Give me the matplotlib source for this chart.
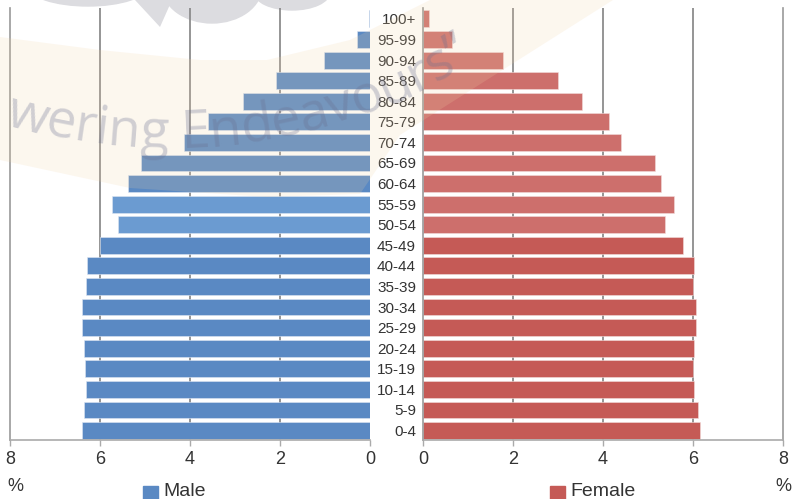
import numpy as np
import matplotlib.pyplot as plt
from matplotlib.patches import Polygon, Ellipse, Rectangle
from matplotlib.font_manager import FontProperties

plt.rcParams['font.family'] = ['Liberation Sans', 'DejaVu Sans']

W, H = 801, 499

# age groups, bottom to top
ages = ['0-4', '5-9', '10-14', '15-19', '20-24', '25-29', '30-34', '35-39',
        '40-44', '45-49', '50-54', '55-59', '60-64', '65-69', '70-74',
        '75-79', '80-84', '85-89', '90-94', '95-99', '100+']
male = [6.41, 6.36, 6.31, 6.34, 6.36, 6.41, 6.39, 6.31, 6.28, 6.01, 5.61,
        5.74, 5.38, 5.08, 4.13, 3.59, 2.82, 2.09, 1.02, 0.28, 0.02]
female = [6.16, 6.11, 6.03, 6.00, 6.03, 6.07, 6.07, 6.00, 6.03, 5.78, 5.38,
          5.58, 5.29, 5.16, 4.40, 4.13, 3.53, 3.01, 1.78, 0.65, 0.13]
ticks = [0, 2, 4, 6, 8]


def fxy(x, y):
    # pixel position (from top-left) -> figure fraction
    return x / W, 1 - y / H


fig = plt.figure(figsize=(W / 100, H / 100), dpi=100)

axL = fig.add_axes([10 / W, 59 / H, 360 / W, 432 / H])
axR = fig.add_axes([423 / W, 59 / H, 360 / W, 432 / H])

y = np.arange(len(ages))
male_col = ['#6b9bd1' if a in ('50-54', '55-59') else '#5a89c3' for a in ages]
female_col = ['#cd6f6c' if i >= 10 else '#c55a56' for i in range(len(ages))]

axL.barh(y, male, height=0.82, color=male_col, edgecolor='#dde6f2', linewidth=0.4, zorder=2)
axR.barh(y, female, height=0.82, color=female_col, edgecolor='#f2dddc', linewidth=0.4, zorder=2)

for ax in (axL, axR):
    ax.set_facecolor('none')
    ax.set_ylim(-0.46, 20.53)
    ax.set_xticks(ticks)
    ax.tick_params(axis='x', length=4, width=1, color='#aaaaaa', labelsize=13,
                   pad=4, labelcolor='#333333')
    for g in ticks[1:-1]:
        ax.axvline(g, color='#8c8c8c', lw=1.3, zorder=1)
    ax.spines['top'].set_visible(False)
    for s in ax.spines.values():
        s.set_color('#999999')
        s.set_linewidth(1.2)
    ax.spines['bottom'].set_color('#aaaaaa')

axL.set_xlim(8, 0)
axR.set_xlim(0, 8)
axL.spines['right'].set_visible(False)
axL.set_yticks([])
axR.set_yticks(y, ages)
axR.tick_params(axis='y', length=0, pad=5, labelsize=11, labelcolor='#333333')

# percent unit labels
fig.text(*fxy(15, 478), '%', ha='center', va='top', fontsize=13, color='#333333')
fig.text(*fxy(783, 478), '%', ha='center', va='top', fontsize=13, color='#333333')

# legend
for x0, col, lab in [(143, '#5a89c3', 'Male'), (550, '#c55a56', 'Female')]:
    fig.patches.append(Rectangle(fxy(x0, 499), 15 / W, 13 / H, color=col,
                                 transform=fig.transFigure, zorder=3))
    fig.text(*fxy(x0 + 20, 496.5), lab, ha='left', va='baseline', fontsize=14, color='#333333')

# watermark: logo petals at the top
for cx, cy, w, h in [(88, -14, 120, 40), (212, -14, 100, 74), (292, -8, 76, 36)]:
    fig.patches.append(Ellipse(fxy(cx, cy), w / W, h / H, color='#dcdce0',
                               transform=fig.transFigure, zorder=-2))
fig.patches.append(Polygon([fxy(135, 0), fxy(160, 27), fxy(172, 0)], closed=True,
                           color='#dcdce0', lw=0, transform=fig.transFigure, zorder=-2))

# watermark: cream swoosh over the chart
band = [(0, 37), (100, 50), (200, 60), (267, 60), (350, 40), (430, 0), (613, 0),
        (400, 135), (360, 194), (267, 197), (130, 188), (0, 160)]
fig.patches.append(Polygon([fxy(a, b) for a, b in band], closed=True, color='#f2d3a4',
                           alpha=0.18, lw=0, transform=fig.transFigure, zorder=5))

# watermark: text bent along a large arc (leading "Po" falls off the left edge)
text = 'Powering Endeavours\u201d'
first = 2
cx, cy, r = 168, H + 428, 576
fp = FontProperties(family='Open Sans', size=34)
renderer = fig.canvas.get_renderer()


def tw(s):
    return renderer.get_text_width_height_descent(s + '|', fp, ismath=False)[0]


scale = 470 / (tw('Powering Endeavours') - tw('Po'))
fp.set_size(34 * scale)
s_start = r * np.arcsin(-(cx - 4) / r) - (tw('Po') - tw(''))
for i, ch in enumerate(text):
    if i < first:
        continue
    s = s_start + (tw(text[:i]) + tw(text[:i + 1])) / 2 - tw('')
    phi = s / r
    px = cx + r * np.sin(phi)
    py = cy - r * np.cos(phi)
    fig.text(px / W, py / H, ch, fontproperties=fp, ha='center', va='baseline',
             rotation=np.degrees(phi), rotation_mode='anchor',
             color='#6a7090', alpha=0.3, zorder=6)

fig.savefig('out.png', dpi=100)
